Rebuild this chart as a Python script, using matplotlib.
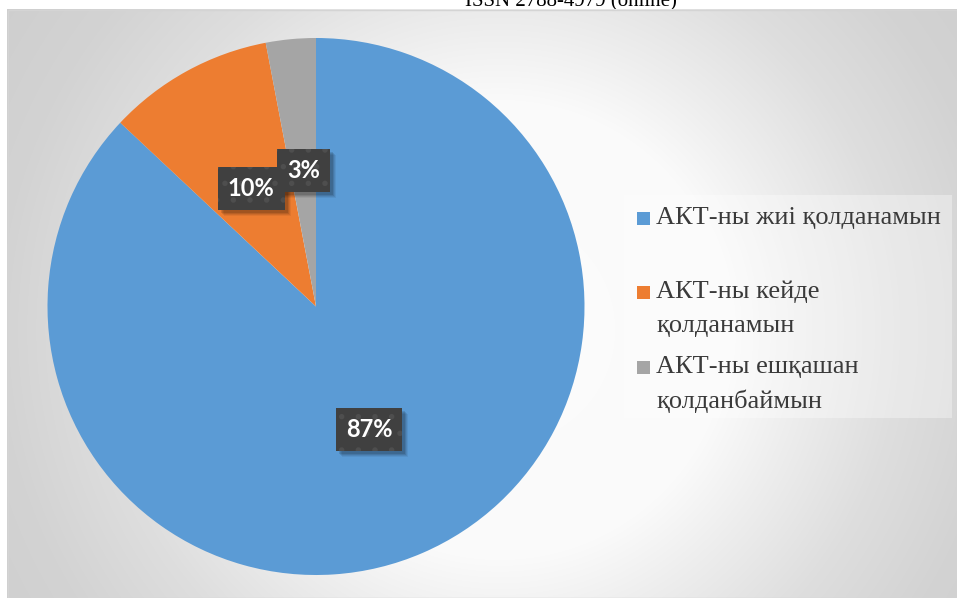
import numpy as np
import matplotlib.pyplot as plt
from matplotlib.patches import Rectangle

# survey answers, share of respondents (%)
labels = ["АКТ-ны жиі қолданамын", "АКТ-ны кейде\nқолданамын", "АКТ-ны ешқашан\nқолданбаймын"]
values = [87, 10, 3]
colors = ["#5B9BD5", "#ED7D31", "#A5A5A5"]

W, H = 957, 598
plt.rcParams['hatch.linewidth'] = 1.5

fig = plt.figure(figsize=(W / 100, H / 100), dpi=100)
fig.patch.set_facecolor('white')

# header line of the page sits above the chart frame
fig.text(571 / W, 1 - 6 / H, "ISSN 2788-4979 (online)", ha='center', va='baseline',
         fontsize=15, family='Liberation Serif', color='black', zorder=-5)

# chart area with radial grey gradient
bg = fig.add_axes([7 / W, 0, 950 / W, 589 / H], zorder=0)
xs = np.arange(7, 957) + 0.5
ys = np.arange(9, 598) + 0.5
X, Y = np.meshgrid(xs, ys)
d = np.hypot(X - 500, Y - 330)
g = np.interp(d, [0, 230, 300, 400, 500, 620], [252, 250, 238, 222, 211, 205]) / 255
bg.imshow(np.dstack([g, g, g]), extent=[7, 957, 598, 9], aspect='auto', interpolation='bilinear')
bg.set_xlim(7, 957)
bg.set_ylim(598, 9)
bg.axis('off')
bg.add_patch(Rectangle((7.5, 9.5), 949, 588, fill=False, edgecolor='#d4d4d4', lw=1))

# pie
cx, cy, r = 316, 306.5, 268.5
ax = fig.add_axes([(cx - r) / W, (H - cy - r) / H, 2 * r / W, 2 * r / H], zorder=1)
wedges, _ = ax.pie(values, colors=colors, startangle=90, counterclock=False,
                   radius=1, wedgeprops=dict(linewidth=0))
ax.set_xlim(-1, 1)
ax.set_ylim(-1, 1)
ax.axis('off')

frac = np.cumsum([0] + values) / sum(values)
pct_texts = []
for i, v in enumerate(values):
    ang = np.deg2rad(90 - 360 * (frac[i] + frac[i + 1]) / 2)
    lx, ly = 0.5 * np.cos(ang), 0.5 * np.sin(ang)
    if i == 2:
        ly += 0.01
    t = ax.text(lx, ly, f"{v}%", ha='center', va='center', fontsize=17, fontweight='bold',
                family='Lato', color='white', zorder=5,
                bbox=dict(boxstyle='square,pad=0.42', fc='#404040', ec='#4e4e4e', lw=0, hatch='.'))
    pct_texts.append(t)

# soft drop shadow under each label box
fig.canvas.draw()
sh = fig.add_axes([0, 0, 1, 1], zorder=1.5)
sh.set_xlim(0, W)
sh.set_ylim(0, H)
sh.axis('off')
for t in pct_texts:
    bb = t.get_bbox_patch().get_window_extent()
    for k, a in [(6, 0.06), (5, 0.08), (4, 0.1), (3, 0.12)]:
        sh.add_patch(Rectangle((bb.x0 + k, bb.y0 - k), bb.width, bb.height,
                               fc=(0, 0, 0, a), ec='none'))
# keep the labels above their shadows
for t in pct_texts:
    t.remove()
    sh.add_artist(t)
    t.set_transform(ax.transData)
    t.set_zorder(6)

# legend
lg = fig.add_axes([0, 0, 1, 1], zorder=2)
lg.set_xlim(0, W)
lg.set_ylim(H, 0)
lg.axis('off')
lg.add_patch(Rectangle((624, 195), 328, 223, fc=(1, 1, 1, 0.35), ec='none'))
rows = [218, 292, 367]
for lab, c, y0 in zip(labels, colors, rows):
    lg.add_patch(Rectangle((636.5, y0 - 6.5), 13, 13, fc=c, ec='none'))
    for j, line in enumerate(lab.split("\n")):
        lg.text(656, y0 + j * 34, line, ha='left', va='center', fontsize=19,
                family='Liberation Serif', color='#3a3a3a')

fig.savefig("out.png", dpi=100)
